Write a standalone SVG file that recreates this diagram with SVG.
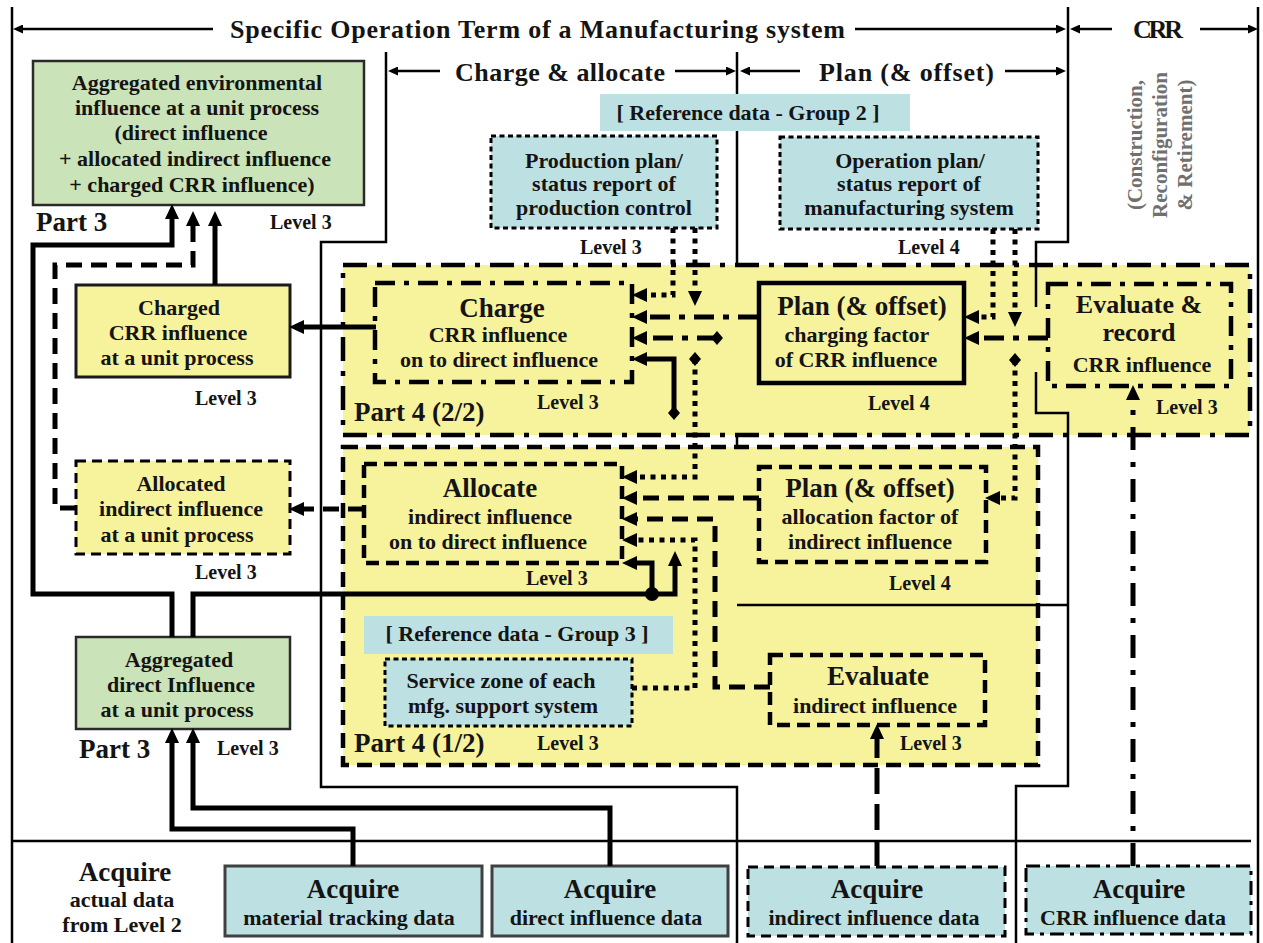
<svg xmlns="http://www.w3.org/2000/svg" width="1263" height="943" viewBox="0 0 1263 943">
<defs>
<style>
text{font-family:"Liberation Serif","Times New Roman",serif;font-weight:bold;fill:#141414}
.h{font-size:26px}
.t1{font-size:27px}
.t2{font-size:22px}
.lv{font-size:20px}
.pt{font-size:27px}
.vt{font-size:21px;fill:#707070}
.c{text-anchor:middle}
.ln{fill:none;stroke:#000;stroke-width:2.5}
.k{fill:none;stroke:#000;stroke-width:5}
.kd{stroke-dasharray:16 9}
.kd2{stroke-dasharray:26 10}
.ko{stroke-dasharray:5 5.5}
.kdd{stroke-dasharray:20 9 6 9}
.kdd2{stroke-dasharray:23 12 5 12}
.green{fill:#cbe3b9;stroke:#2a2a2a;stroke-width:2.5}
.yel{fill:#f7f29c}
.blue{fill:#bde0e3}
.sol{stroke:#1a1a1a;stroke-width:3}
.sol4{stroke:#000;stroke-width:4.5}
.fdd{stroke:#000;stroke-width:4.5;stroke-dasharray:24 10 5 10}
.fdash{stroke:#000;stroke-width:4.5;stroke-dasharray:15 8}
.bdd{stroke:#000;stroke-width:4.5;stroke-dasharray:20 9 5 9}
.bdash{stroke:#000;stroke-width:4.5;stroke-dasharray:13 7}
.bdash3{stroke:#000;stroke-width:3;stroke-dasharray:10 6}
.bdot{stroke:#000;stroke-width:3;stroke-dasharray:5 3.5}
.bdd3{stroke:#000;stroke-width:3;stroke-dasharray:14 6 4 6}
.gbox{stroke:#404040;stroke-width:3}
</style>
<marker id="ah" markerUnits="userSpaceOnUse" markerWidth="15" markerHeight="14" refX="0" refY="7" orient="auto" viewBox="0 0 15 14"><path d="M0,0L15,7L0,14z" fill="#000"/></marker>
<marker id="ahs" markerUnits="userSpaceOnUse" markerWidth="10" markerHeight="9" refX="0" refY="4.5" orient="auto" viewBox="0 0 10 9"><path d="M0,0L10,4.5L0,9z" fill="#000"/></marker>
<marker id="dm" markerUnits="userSpaceOnUse" markerWidth="12" markerHeight="14" refX="6" refY="7" viewBox="0 0 12 14"><path d="M6,0L12,7L6,14L0,7z" fill="#000"/></marker>
</defs>
<rect width="1263" height="943" fill="#fff"/>

<g id="phase-lines-under">
<path class="ln" d="M12,7V943"/>
<path class="ln" d="M386,52V242H321V787H737V943"/>
<path class="ln" d="M737,52V605"/>
<path class="ln" d="M1258,7V943"/>
<path class="ln" d="M12,841H1251"/>
</g>

<g id="header">
<text class="h" x="230" y="38" textLength="615">Specific Operation Term of a Manufacturing system</text>
<text class="h" x="455" y="81" textLength="210">Charge &amp; allocate</text>
<text class="h" x="819" y="81" textLength="175">Plan (&amp; offset)</text>
<text class="h" x="1133" y="38" textLength="50">CRR</text>
<path class="ln" d="M213,29H23" marker-end="url(#ahs)"/>
<path class="ln" d="M855,29H1056" marker-end="url(#ahs)"/>
<path class="ln" d="M1112,29H1080" marker-end="url(#ahs)"/>
<path class="ln" d="M1200,29H1248" marker-end="url(#ahs)"/>
<path class="ln" d="M440,71H398" marker-end="url(#ahs)"/>
<path class="ln" d="M675,71H726" marker-end="url(#ahs)"/>
<path class="ln" d="M800,71H750" marker-end="url(#ahs)"/>
<path class="ln" d="M1005,71H1056" marker-end="url(#ahs)"/>
<text class="vt c" transform="translate(1160,145) rotate(-90)"><tspan x="0" y="-18">(Construction,</tspan><tspan x="0" y="7">Reconfiguration</tspan><tspan x="0" y="32">&amp; Retirement)</tspan></text>
</g>

<g id="part4-2of2">
<rect class="yel fdd" x="343" y="265" width="907" height="170"/>
<text class="pt" x="354" y="421">Part 4 (2/2)</text>
</g>
<g id="part4-1of2">
<rect class="yel fdash" x="343" y="447" width="695" height="318"/>
<text class="pt" x="354" y="752">Part 4 (1/2)</text>
</g>

<g id="phase-lines-over">
<path class="ln" d="M737,605H1068"/>
<path class="ln" d="M1068,7V242H1036V307"/>
<path class="ln" d="M1036,372V413H1068V786H1016V943"/>
</g>

<g id="n-aggregated-env">
<rect class="green" x="33" y="61" width="331" height="144"/>
<text class="t2 c" x="197" y="90">Aggregated environmental</text>
<text class="t2 c" x="197" y="115">influence at a unit process</text>
<text class="t2 c" x="191" y="140">(direct influence</text>
<text class="t2 c" x="195" y="166">+ allocated indirect influence</text>
<text class="t2 c" x="192" y="192">+ charged CRR influence)</text>
<text class="pt" x="36" y="231">Part 3</text>
<text class="lv" x="270" y="229">Level 3</text>
</g>

<g id="n-charged-crr">
<rect class="yel sol" x="76" y="285" width="214" height="92"/>
<text class="t2 c" x="179" y="315">Charged</text>
<text class="t2 c" x="178" y="340">CRR influence</text>
<text class="t2 c" x="177" y="365">at a unit process</text>
<text class="lv" x="195" y="405">Level 3</text>
</g>

<g id="n-allocated-indirect">
<rect class="yel bdash3" x="76" y="461" width="214" height="93"/>
<text class="t2 c" x="181" y="491">Allocated</text>
<text class="t2 c" x="181" y="516">indirect influence</text>
<text class="t2 c" x="177" y="542">at a unit process</text>
<text class="lv" x="195" y="579">Level 3</text>
</g>

<g id="n-aggregated-direct">
<rect class="green" x="76" y="637" width="214" height="92"/>
<text class="t2 c" x="179" y="667">Aggregated</text>
<text class="t2 c" x="181" y="692">direct Influence</text>
<text class="t2 c" x="177" y="717">at a unit process</text>
<text class="pt" x="79" y="758">Part 3</text>
<text class="lv" x="217" y="755">Level 3</text>
</g>

<g id="n-ref-group2">
<rect class="blue" x="600" y="94" width="310" height="37"/>
<text class="t2 c" x="748" y="120">[ Reference data - Group 2 ]</text>
</g>

<g id="n-production-plan">
<rect class="blue bdot" x="491" y="136" width="226" height="92"/>
<text class="t2 c" x="604" y="168">Production plan/</text>
<text class="t2 c" x="604" y="191">status report of</text>
<text class="t2 c" x="604" y="215">production control</text>
<text class="lv" x="580" y="254">Level 3</text>
</g>

<g id="n-operation-plan">
<rect class="blue bdot" x="780" y="137" width="258" height="92"/>
<text class="t2 c" x="910" y="168">Operation plan/</text>
<text class="t2 c" x="909" y="191">status report of</text>
<text class="t2 c" x="909" y="215">manufacturing system</text>
<text class="lv" x="898" y="254">Level 4</text>
</g>

<g id="n-charge">
<rect class="yel bdd" x="375" y="283" width="257" height="99"/>
<text class="t1 c" x="502" y="317">Charge</text>
<text class="t2 c" x="498" y="342">CRR influence</text>
<text class="t2 c" x="499" y="367">on to direct influence</text>
<text class="lv" x="537" y="409">Level 3</text>
</g>

<g id="n-plan-charging">
<rect class="yel sol4" x="759" y="283" width="205" height="100"/>
<text class="t1 c" x="862" y="315">Plan (&amp; offset)</text>
<text class="t2 c" x="857" y="342">charging factor</text>
<text class="t2 c" x="856" y="367">of CRR influence</text>
<text class="lv" x="868" y="410">Level 4</text>
</g>

<g id="n-evaluate-record">
<rect class="yel bdd" x="1048" y="284" width="183" height="102"/>
<text class="t1 c" x="1139" y="313" style="font-size:26px">Evaluate &amp;</text>
<text class="t1 c" x="1139" y="341" style="font-size:26px">record</text>
<text class="t2 c" x="1142" y="372">CRR influence</text>
<text class="lv" x="1156" y="414">Level 3</text>
</g>

<g id="n-allocate">
<rect class="yel bdash" x="364" y="464" width="258" height="99"/>
<text class="t1 c" x="490" y="497">Allocate</text>
<text class="t2 c" x="490" y="524">indirect influence</text>
<text class="t2 c" x="488" y="549">on to direct influence</text>
<text class="lv" x="526" y="585">Level 3</text>
</g>

<g id="n-plan-allocation">
<rect class="yel bdash" x="759" y="467" width="227" height="95"/>
<text class="t1 c" x="870" y="497">Plan (&amp; offset)</text>
<text class="t2 c" x="870" y="524">allocation factor of</text>
<text class="t2 c" x="870" y="549">indirect influence</text>
<text class="lv" x="889" y="590">Level 4</text>
</g>

<g id="n-ref-group3">
<rect class="blue" x="364" y="616" width="309" height="38"/>
<text class="t2 c" x="517" y="641">[ Reference data - Group 3 ]</text>
</g>

<g id="n-service-zone">
<rect class="blue bdot" x="385" y="659" width="247" height="67"/>
<text class="t2 c" x="501" y="688">Service zone of each</text>
<text class="t2 c" x="503" y="713">mfg. support system</text>
<text class="lv" x="537" y="750">Level 3</text>
</g>

<g id="n-evaluate-indirect">
<rect class="yel bdash" x="770" y="655" width="215" height="70"/>
<text class="t1 c" x="878" y="685">Evaluate</text>
<text class="t2 c" x="875" y="713">indirect influence</text>
<text class="lv" x="900" y="750">Level 3</text>
</g>

<g id="n-acquire-label">
<text class="t1 c" x="125" y="881">Acquire</text>
<text class="t2 c" x="122" y="907">actual data</text>
<text class="t2 c" x="122" y="932">from Level 2</text>
</g>

<g id="n-acq-material">
<rect class="blue gbox" x="225" y="866" width="257" height="70"/>
<text class="t1 c" x="353" y="898">Acquire</text>
<text class="t2 c" x="349" y="925">material tracking data</text>
</g>
<g id="n-acq-direct">
<rect class="blue gbox" x="492" y="866" width="236" height="70"/>
<text class="t1 c" x="610" y="898">Acquire</text>
<text class="t2 c" x="606" y="925">direct influence data</text>
</g>
<g id="n-acq-indirect">
<rect class="blue bdash3" x="748" y="867" width="257" height="69"/>
<text class="t1 c" x="877" y="898">Acquire</text>
<text class="t2 c" x="874" y="925">indirect influence data</text>
</g>
<g id="n-acq-crr">
<rect class="blue bdd3" x="1026" y="866" width="225" height="68"/>
<text class="t1 c" x="1139" y="898">Acquire</text>
<text class="t2 c" x="1133" y="925">CRR influence data</text>
</g>

<g id="connectors">
<path class="k" d="M172,637V594H33V245H172V219" marker-end="url(#ah)"/>
<path class="k kd" d="M76,508H55V265H193V226" marker-end="url(#ah)"/>
<path class="k" d="M215,285V226" marker-end="url(#ah)"/>
<path class="k" d="M376,327H304" marker-end="url(#ah)"/>
<path class="k kd" d="M364,509H304" marker-end="url(#ah)"/>
<path class="k" d="M193,637V594H652V563H637" marker-end="url(#ah)"/>
<path class="k" d="M652,594H675V566" marker-end="url(#ah)"/>
<circle cx="652" cy="594" r="7" fill="#000"/>
<path class="k" d="M353,866V829H172V743" marker-end="url(#ah)"/>
<path class="k" d="M610,866V808H193V743" marker-end="url(#ah)"/>
<path class="k" d="M674,413V359H647" marker-start="url(#dm)" marker-end="url(#ah)"/>
<path class="k ko" d="M673,228V295H647" marker-end="url(#ah)"/>
<path class="k ko" d="M695,228V291" marker-end="url(#ah)"/>
<path class="k kdd" d="M758,317H647" marker-end="url(#ah)"/>
<path class="k kdd" d="M717,338H647" marker-start="url(#dm)" marker-end="url(#ah)"/>
<path class="k ko" d="M695,359V477H637" marker-start="url(#dm)" marker-end="url(#ah)"/>
<path class="k ko" d="M993,229V317H979" marker-end="url(#ah)"/>
<path class="k ko" d="M1015,229V312" marker-end="url(#ah)"/>
<path class="k kdd" d="M1048,338H979" marker-end="url(#ah)"/>
<path class="k ko" d="M1015,360V498H1000" marker-start="url(#dm)" marker-end="url(#ah)"/>
<path class="k kd" d="M759,498H637" marker-end="url(#ah)"/>
<path class="k kd" d="M770,687H715V519H637" marker-end="url(#ah)"/>
<path class="k ko" d="M632,688H695V540H637" marker-end="url(#ah)"/>
<path class="k kd2" d="M877,866V739" marker-end="url(#ah)"/>
<path class="k kdd2" d="M1133,866V400" marker-end="url(#ah)"/>
</g>
</svg>
